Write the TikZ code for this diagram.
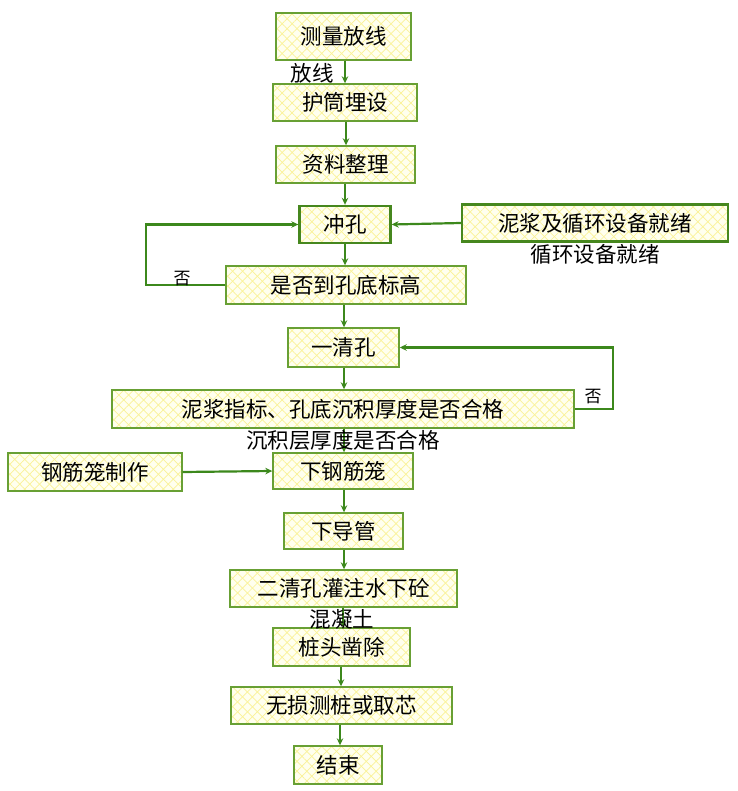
\documentclass[tikz,border=0pt]{standalone}
\usepackage{fontspec}
\setmainfont{Noto Sans CJK SC}
\usetikzlibrary{arrows.meta,patterns.meta}
\definecolor{bordergreen}{RGB}{104,160,52}
\definecolor{darkgreen}{RGB}{70,135,30}
\definecolor{arrowgreen}{RGB}{60,136,28}
\definecolor{fillyellow}{RGB}{255,255,238}
\definecolor{hatchyellow}{RGB}{250,242,150}
\tikzset{
  box/.style={draw=bordergreen, line width=1.4pt, inner sep=0pt,
    preaction={fill=fillyellow},
    preaction={pattern={Lines[angle=45,distance=7pt,line width=0.7pt]}, pattern color=hatchyellow},
    preaction={pattern={Lines[angle=-45,distance=7pt,line width=0.7pt]}, pattern color=hatchyellow},
    font=\fontsize{21.5}{24}\selectfont, text=black},
  thickbox/.style={box, draw=darkgreen, line width=2.4pt},
  arr/.style={draw=arrowgreen, line width=2.2pt, -{Stealth[length=7pt,width=6.5pt]}},
  lbl/.style={font=\fontsize{21.5}{24}\selectfont, text=black, inner sep=0pt},
  nolbl/.style={font=\fontsize{17}{19}\selectfont, text=black, inner sep=0pt}
}
\begin{document}
\begin{tikzpicture}[x=1pt,y=-1pt]
\useasboundingbox (0,0) rectangle (737,791);
\node[box, minimum width=135pt, minimum height=47pt] (b1) at (343.5,36.5) {测量放线};
\node[box, minimum width=144pt, minimum height=37pt] (b2) at (345,102.5) {护筒埋设};
\node[box, minimum width=139pt, minimum height=37pt] (b3) at (345.5,164.5) {资料整理};
\node[thickbox, minimum width=91pt, minimum height=37pt] (b4) at (345,224.5) {冲孔};
\node[thickbox, minimum width=266pt, minimum height=37pt] (b5) at (595,223) {泥浆及循环设备就绪};
\node[box, minimum width=240pt, minimum height=38pt] (b6) at (346,285) {是否到孔底标高};
\node[box, minimum width=111pt, minimum height=39pt] (b7) at (343.5,347.5) {一清孔};
\node[box, minimum width=462pt, minimum height=38pt] (b8) at (343,409) {泥浆指标、孔底沉积厚度是否合格};
\node[box, minimum width=174pt, minimum height=38pt] (b9) at (95,472) {钢筋笼制作};
\node[box, minimum width=140pt, minimum height=36pt] (b10) at (343,471) {下钢筋笼};
\node[box, minimum width=119pt, minimum height=36pt] (b11) at (343.5,531) {下导管};
\node[box, minimum width=227pt, minimum height=37pt] (b12) at (343.5,588.5) {二清孔灌注水下砼};
\node[box, minimum width=137pt, minimum height=38pt] (b13) at (341.5,647) {桩头凿除};
\node[box, minimum width=221pt, minimum height=37pt] (b14) at (341.5,705.5) {无损测桩或取芯};
\node[box, minimum width=88pt, minimum height=38pt] (b15) at (338,765) {结束};

\draw[arr] (b1.south -| 345,0) -- (b2.north -| 345,0);
\draw[arr] (b2.south -| 346,0) -- (b3.north -| 346,0);
\draw[arr] (b3.south -| 345,0) -- (b4.north -| 345,0);
\draw[arr] (b5.west) -- (b4.east);
\draw[arr] (b4.south -| 345,0) -- (b6.north -| 345,0);
\draw[arr] (b6.west) -- ++(-79,0) |- (b4.west);
\draw[arr] (b6.south -| 344,0) -- (b7.north -| 344,0);
\draw[arr] (b7.south -| 344,0) -- (b8.north -| 344,0);
\draw[arr] (b8.east) -- ++(38,0) |- (b7.east);
\draw[arr] (b8.south -| 344,0) -- (b10.north -| 344,0);
\draw[arr] (b9.east) -- (b10.west);
\draw[arr] (b10.south -| 344,0) -- (b11.north -| 344,0);
\draw[arr] (b11.south -| 344,0) -- (b12.north -| 344,0);
\draw[arr] (b12.south -| 343,0) -- (b13.north -| 343,0);
\draw[arr] (b13.south -| 341,0) -- (b14.north -| 341,0);
\draw[arr] (b14.south -| 340,0) -- (b15.north -| 340,0);

\node[lbl] (l1) at (312,73) {放线};
\node[lbl] (l2) at (595,254) {循环设备就绪};
\node[lbl] (l3) at (343,440) {沉积层厚度是否合格};
\node[lbl] (l4) at (342,619) {混凝土};
\node[nolbl] (n1) at (182,279) {否};
\node[nolbl] (n2) at (593,397) {否};
\end{tikzpicture}
\end{document}
